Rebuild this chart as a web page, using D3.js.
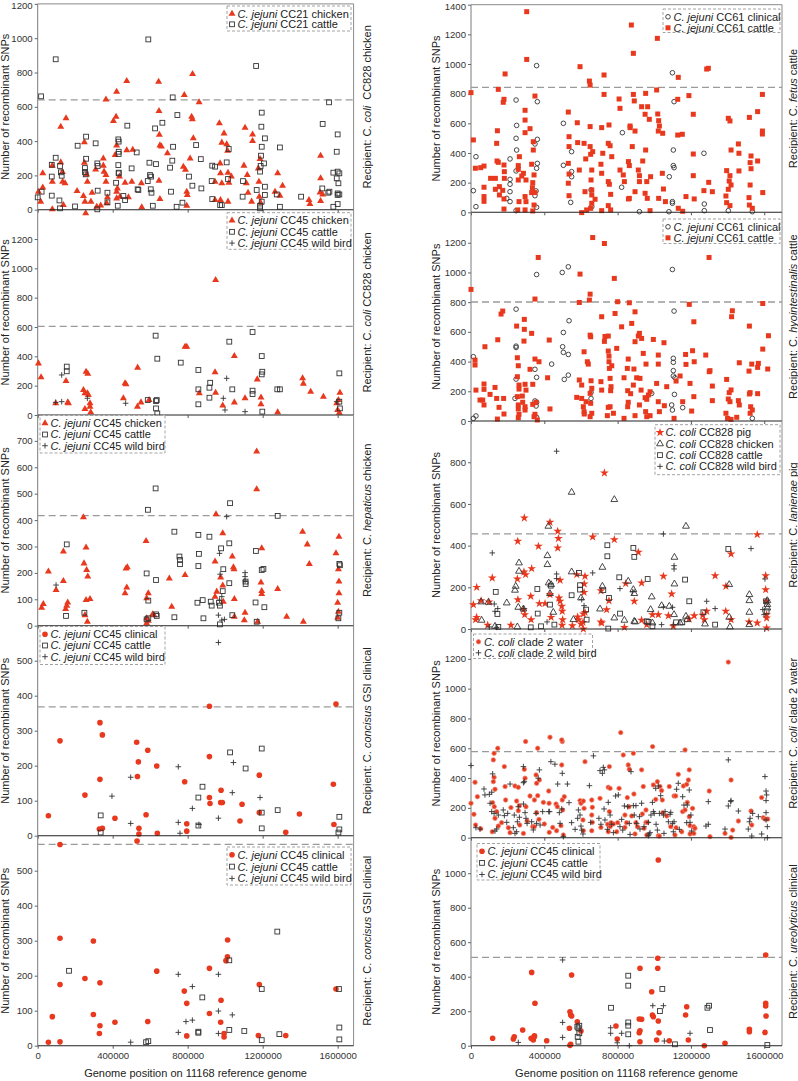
<!DOCTYPE html>
<html><head><meta charset="utf-8">
<script src="https://cdn.jsdelivr.net/npm/d3@7"></script>
<style>body{margin:0;background:#fff}svg{display:block}text{font-family:"Liberation Sans",Arial,sans-serif}</style>
</head><body><svg id="c" width="798" height="1081"></svg>
<script>
// ---------------- DATA (x = genome position in kb, y = number of recombinant SNPs) ----------------
const xTicks = [0, 400000, 800000, 1200000, 1600000];
const thresholds = {L1:640, L2:605, L3:417, L4:368, L5:575, R1:843, R2:801, R3:456, R4:578, R5:512};
const yTicksL1 = [0,200,400,600,800,1000,1200];
const yTicksL2 = [0,200,400,600,800,1000,1200];
const yTicksL3 = [0,100,200,300,400,500,600,700];
const yTicksL4 = [0,100,200,300,400,500];
const yTicksL5 = [0,100,200,300,400,500];
const yTicksR1 = [0,200,400,600,800,1000,1200,1400];
const yTicksR2 = [0,200,400,600,800,1000,1200];
const yTicksR3 = [0,200,400,600,800];
const yTicksR4 = [0,200,400,600,800,1000,1200];
const yTicksR5 = [0,200,400,600,800,1000];

const L1_chicken = [[4,105],[16,47],[27,212],[27,130],[78,2],[78,163],[78,257],[123,484],[123,276],[132,220],[133,163],[146,154],[151,533],[137,27],[210,109],[244,80],[249,393],[249,274],[256,-21],[252,47],[261,206],[265,163],[284,47],[290,99],[309,235],[315,17],[336,25],[350,257],[350,299],[354,222],[364,643],[364,202],[364,163],[368,37],[372,72],[404,517],[413,319],[418,542],[421,688],[421,375],[425,124],[421,105],[421,66],[436,193],[439,76],[475,750],[475,346],[466,157],[484,72],[507,350],[502,163],[553,154],[555,14],[645,746],[647,575],[649,437],[652,375],[660,368],[647,169],[652,62],[692,329],[782,669],[777,251],[788,233],[795,105],[798,86],[795,23],[813,299],[821,542],[825,527],[826,791],[830,416],[861,626],[946,163],[969,504],[973,270],[982,391],[994,445],[1008,381],[1013,344],[975,212],[982,154],[946,56],[975,56],[1015,216],[1020,157],[1033,193],[1015,47],[1106,478],[1100,257],[1118,202],[1113,154],[1122,99],[1146,439],[1146,400],[1141,47],[1177,241],[1180,163],[1182,76],[1186,295],[1189,41],[1280,212],[1266,105],[1292,82],[1306,140],[1447,56],[1452,33],[1509,315],[1509,183],[1506,101],[1509,51],[1520,89]];
const L1_cattle = [[18,661],[21,105],[0,72],[96,877],[75,262],[75,193],[75,82],[96,303],[119,255],[124,218],[128,198],[116,54],[119,8],[199,19],[213,373],[258,426],[258,297],[252,243],[252,220],[256,206],[309,387],[318,270],[320,255],[320,111],[318,2],[372,99],[372,43],[418,157],[430,410],[432,397],[432,338],[432,325],[430,260],[432,216],[432,212],[427,23],[457,80],[466,56],[478,490],[501,241],[528,334],[533,119],[537,115],[590,993],[596,274],[599,202],[605,193],[587,167],[603,119],[607,99],[614,23],[626,474],[631,266],[665,507],[706,245],[711,105],[718,286],[720,655],[722,367],[745,552],[741,17],[772,41],[807,193],[825,140],[845,377],[870,295],[873,124],[928,167],[931,257],[946,251],[931,62],[973,27],[982,27],[1008,276],[1015,179],[1019,354],[1095,167],[1093,76],[1165,838],[1168,115],[1189,255],[1186,222],[1191,315],[1195,367],[1193,484],[1195,566],[1195,47],[1186,23],[1186,8],[1212,416],[1207,270],[1212,134],[1212,86],[1292,363],[1292,17],[1275,89],[1405,76],[1520,500],[1518,124],[1554,626],[1550,99],[1556,105],[1577,216],[1577,17],[1595,338],[1600,439],[1600,222],[1609,212],[1604,154],[1600,95],[1600,86],[1609,89],[1600,33],[1595,183]];

const L2_chicken = [[4,352],[18,257],[96,80],[151,232],[160,86],[164,80],[244,170],[258,295],[267,282],[252,148],[265,148],[270,136],[279,80],[252,41],[279,57],[283,18],[466,216],[471,209],[457,114],[533,323],[532,57],[551,86],[594,102],[786,466],[795,466],[862,148],[946,291],[949,152],[949,920],[987,64],[1049,402],[1049,86],[1106,114],[1171,243],[1191,120],[1191,73],[1280,18],[1413,250],[1417,214],[1456,159],[1524,125],[1604,102],[1612,152],[1600,34],[1609,16],[1595,80]];
const L2_cattle = [[155,330],[155,298],[587,102],[629,541],[638,384],[631,95],[631,45],[638,11],[635,102],[763,357],[857,307],[857,175],[857,73],[916,186],[916,118],[920,220],[1022,500],[1038,175],[1146,566],[1146,166],[1146,143],[1195,402],[1195,277],[1198,295],[1198,23],[1278,175],[1292,175],[1609,284],[1609,91],[1612,45]];
const L2_wildbird = [[96,86],[128,91],[128,273],[265,114],[469,80],[1008,250],[990,114],[999,34],[1106,23],[1595,91]];

const L3_chicken = [[21,68],[30,82],[57,205],[98,135],[137,169],[137,281],[149,63],[155,76],[160,88],[244,411],[258,296],[247,236],[261,211],[267,186],[258,97],[279,101],[252,40],[265,15],[471,217],[478,221],[475,145],[466,123],[578,321],[590,123],[581,104],[581,28],[581,9],[590,19],[613,43],[620,40],[702,179],[715,72],[786,192],[951,422],[946,243],[955,129],[946,110],[976,183],[987,350],[987,152],[990,91],[1038,262],[1044,221],[1047,214],[1049,101],[1049,34],[1106,49],[1102,21],[1168,660],[1168,517],[1173,15],[1195,293],[1191,164],[1195,131],[1195,120],[1280,139],[1328,34],[1413,356],[1438,308],[1449,234],[1417,15],[1591,274],[1607,337],[1604,214],[1607,167],[1607,123],[1600,87],[1604,53],[1600,30]];
const L3_cattle = [[155,308],[151,37],[249,49],[588,439],[629,520],[581,198],[631,173],[590,95],[581,24],[590,28],[631,43],[635,37],[729,356],[756,262],[759,249],[759,233],[729,32],[857,344],[860,272],[857,226],[852,87],[880,97],[884,28],[916,337],[923,91],[928,76],[967,87],[972,76],[978,293],[1026,464],[1022,312],[990,214],[987,131],[1022,161],[972,5],[1038,40],[1109,167],[1109,158],[1164,283],[1195,211],[1204,215],[1162,88],[1209,70],[1168,15],[1280,416],[1609,234],[1612,229],[1609,49],[1604,28]];
const L3_wildbird = [[98,154],[1008,413],[970,274],[973,195],[970,97],[982,110],[964,40],[982,21],[996,24],[1106,201],[1106,186],[1106,170]];

const L4_clinical = [[57,57],[119,271],[252,116],[332,323],[345,288],[332,161],[329,19],[345,21],[412,50],[528,267],[537,211],[532,169],[540,21],[540,5],[587,244],[578,60],[635,199],[638,7],[784,154],[795,34],[795,13],[916,370],[916,226],[916,109],[919,92],[978,130],[976,95],[985,95],[1090,90],[1079,42],[1182,173],[1182,66],[1323,10],[1396,62],[1577,147],[1580,32],[1591,376]];
const L4_cattle = [[336,58],[336,9],[857,109],[857,29],[879,140],[1026,238],[1109,192],[1195,249],[1195,66],[1195,21],[1280,73],[1609,54],[1609,18],[1604,9]];
const L4_wildbird = [[396,113],[496,167],[496,35],[750,197],[750,38],[759,7],[825,78],[860,32],[964,552],[964,50],[1044,209],[1038,123],[1186,109]];

const L5_clinical = [[119,575],[530,585],[57,10],[78,83],[119,307],[119,175],[119,11],[252,192],[297,299],[297,89],[332,180],[332,57],[329,35],[412,67],[587,69],[635,213],[782,156],[795,121],[795,28],[916,221],[916,92],[978,130],[976,67],[994,35],[994,25],[1013,302],[1012,254],[1004,243],[1182,175],[1177,29],[1323,29],[1591,162]];
const L5_cattle = [[167,214],[590,13],[578,10],[857,40],[857,37],[878,138],[1022,45],[1022,244],[1102,42],[1195,162],[1195,16],[1278,326],[1289,33],[1607,162],[1609,52],[1609,18]];
const L5_wildbird = [[496,10],[750,204],[825,169],[825,73],[791,69],[750,38],[964,204],[964,99],[964,35],[1038,88]];

const R1_clinical = [[13,146],[27,375],[27,38],[246,757],[249,586],[246,499],[249,420],[246,279],[213,360],[213,222],[213,189],[213,139],[213,72],[195,94],[246,11],[358,989],[362,746],[362,492],[362,330],[358,297],[349,461],[355,144],[349,112],[358,34],[504,600],[504,317],[549,409],[549,274],[549,240],[544,67],[655,151],[659,38],[826,537],[822,169],[919,4],[1082,240],[1099,941],[1108,746],[1104,420],[1104,315],[1108,301],[1099,72],[1099,61],[1080,4],[1271,398],[1273,56],[1273,11],[1404,11],[1535,4]];
const R1_cattle = [[0,807],[13,488],[24,297],[53,301],[71,312],[71,169],[71,106],[71,74],[107,229],[133,229],[133,155],[144,550],[149,829],[140,465],[142,346],[149,337],[155,173],[155,117],[173,148],[180,762],[176,742],[186,933],[180,319],[182,274],[182,229],[180,90],[180,22],[258,315],[258,290],[258,218],[262,72],[255,16],[264,375],[295,688],[295,622],[304,1353],[304,1031],[295,537],[286,263],[277,245],[300,218],[295,106],[300,72],[295,16],[322,564],[331,324],[340,476],[340,420],[349,784],[344,252],[337,200],[331,133],[337,9],[344,49],[349,133],[335,166],[531,676],[535,510],[535,443],[531,330],[535,258],[531,196],[535,112],[580,604],[595,982],[582,470],[591,285],[604,-2],[617,465],[622,139],[626,360],[631,16],[646,885],[650,858],[650,578],[650,443],[653,391],[659,285],[655,218],[659,151],[659,117],[659,61],[653,27],[664,409],[677,88],[713,571],[719,398],[726,795],[726,926],[713,263],[709,324],[749,465],[753,589],[759,449],[768,375],[749,207],[755,189],[762,121],[713,11],[749,45],[762,16],[808,764],[813,701],[813,285],[831,252],[837,207],[859,342],[864,315],[868,582],[868,571],[859,90],[864,94],[875,1263],[886,1072],[886,795],[891,751],[880,443],[895,548],[895,139],[913,285],[919,247],[919,207],[931,712],[937,346],[953,802],[953,420],[964,712],[950,661],[959,207],[950,128],[962,94],[973,627],[980,240],[977,11],[1013,825],[1017,1173],[1019,663],[1024,618],[1028,582],[1022,548],[1046,533],[1024,94],[1044,263],[1050,157],[1061,72],[1131,910],[1128,762],[1128,521],[1153,526],[1131,27],[1155,7],[1173,106],[1189,787],[1213,661],[1213,393],[1213,247],[1218,90],[1286,966],[1295,971],[1271,146],[1297,202],[1317,139],[1404,634],[1413,616],[1395,281],[1413,247],[1409,211],[1419,420],[1419,184],[1391,110],[1404,155],[1395,65],[1413,45],[1459,461],[1462,398],[1462,279],[1519,640],[1523,335],[1523,184],[1517,99],[1519,49],[1528,380],[1528,294],[1535,27],[1564,679],[1564,346],[1590,795],[1590,548],[1590,528],[1592,133]];

const R2_clinical = [[13,433],[13,18],[27,34],[246,753],[246,504],[246,495],[246,282],[240,152],[349,348],[358,294],[358,986],[349,135],[358,126],[355,101],[358,25],[440,383],[498,1000],[531,1038],[504,596],[535,675],[500,500],[504,462],[531,448],[509,280],[531,309],[655,193],[655,152],[986,186],[1099,1020],[1108,740],[1104,422],[1104,395],[1104,339],[1104,303],[1113,291],[1110,179],[1095,108],[1099,74],[1155,90],[1535,18]];
const R2_cattle = [[0,886],[22,410],[22,377],[27,208],[71,249],[71,213],[76,500],[49,141],[64,141],[71,108],[104,179],[131,226],[140,152],[146,547],[153,92],[144,13],[164,720],[173,740],[178,152],[180,47],[249,639],[253,426],[258,372],[253,298],[262,242],[262,215],[258,108],[258,81],[258,22],[262,45],[253,164],[280,168],[282,126],[291,684],[291,617],[289,538],[295,247],[300,208],[295,96],[295,74],[322,348],[331,590],[337,247],[337,112],[349,821],[349,417],[349,45],[355,126],[367,1101],[371,399],[344,29],[362,7],[418,291],[427,545],[431,81],[577,159],[591,276],[595,989],[591,798],[604,242],[617,466],[617,63],[604,152],[613,96],[618,47],[628,130],[635,399],[640,383],[650,854],[646,814],[650,578],[653,567],[655,271],[659,220],[650,186],[653,119],[659,52],[650,29],[664,1235],[709,265],[713,702],[713,208],[728,1195],[728,536],[731,569],[749,572],[749,471],[753,437],[753,399],[755,354],[759,287],[764,231],[768,372],[762,204],[744,36],[749,92],[759,96],[777,52],[782,960],[786,724],[795,489],[800,803],[822,634],[835,291],[835,18],[853,354],[858,417],[855,204],[858,126],[855,96],[864,796],[871,184],[877,657],[886,242],[889,350],[895,735],[895,36],[895,534],[904,291],[913,572],[919,590],[919,108],[922,287],[928,208],[931,556],[940,455],[950,157],[953,63],[959,146],[955,383],[968,175],[959,29],[977,197],[977,36],[995,549],[1013,253],[1022,383],[1022,130],[1028,63],[1022,444],[1053,527],[1055,103],[1068,231],[1108,18],[1119,269],[1141,303],[1155,130],[1171,448],[1173,381],[1191,785],[1195,253],[1204,67],[1209,473],[1216,668],[1216,164],[1218,399],[1281,444],[1299,1101],[1300,332],[1304,339],[1317,235],[1317,137],[1395,280],[1391,52],[1404,148],[1409,191],[1413,130],[1419,209],[1426,742],[1422,702],[1400,18],[1419,11],[1450,25],[1464,392],[1459,137],[1464,108],[1519,639],[1517,336],[1523,191],[1519,182],[1526,96],[1523,52],[1535,74],[1532,383],[1564,361],[1568,388],[1564,184],[1592,791],[1592,484],[1623,574],[1619,350]];

const R3_pig = [[13,117],[25,45],[31,56],[31,200],[55,136],[91,18],[98,130],[116,245],[218,18],[253,240],[255,421],[256,141],[286,93],[291,533],[293,69],[289,274],[298,261],[326,157],[331,290],[328,45],[368,397],[373,122],[404,122],[437,56],[431,512],[431,165],[473,469],[477,434],[473,389],[480,149],[486,234],[486,133],[495,109],[498,85],[500,45],[497,18],[553,16],[577,261],[582,58],[586,45],[600,24],[613,72],[618,216],[622,80],[613,0],[611,32],[617,176],[622,253],[664,442],[709,184],[709,34],[713,29],[728,749],[740,93],[753,136],[782,429],[837,8],[844,218],[891,133],[913,368],[931,221],[931,42],[959,21],[990,69],[1022,69],[1050,253],[1077,64],[1095,168],[1104,13],[1190,48],[1218,64],[1264,66],[1273,45],[1286,85],[1332,256],[1390,85],[1391,205],[1419,360],[1419,45],[1517,34],[1562,29],[1562,453],[1608,256],[1608,189],[1613,133],[1613,69],[1613,53],[1613,5]];
const R3_chicken = [[55,130],[58,42],[95,128],[131,13],[195,125],[244,205],[240,186],[262,317],[262,277],[258,104],[253,10],[286,96],[417,352],[417,309],[424,221],[422,493],[431,170],[437,213],[449,80],[549,274],[549,656],[559,45],[600,149],[704,96],[717,205],[717,296],[782,621],[782,53],[837,42],[858,229],[886,189],[891,170],[891,37],[895,34],[980,93],[986,154],[990,29],[1040,112],[1082,109],[1108,69],[1110,216],[1110,344],[1141,29],[1173,61],[1173,493],[1180,45],[1277,24],[1409,213],[1409,56],[1413,10],[1519,165],[1519,136],[1519,80],[1519,21],[1617,136],[1617,117],[1617,101]];
const R3_cattle = [[135,178],[144,72],[149,10],[326,8],[364,74],[362,192],[382,13],[431,117],[435,208],[455,21],[549,162],[589,269],[595,210],[595,189],[628,93],[631,45],[722,186],[744,402],[744,349],[749,2],[753,149],[809,248],[813,74],[886,389],[891,346],[964,240],[959,37],[968,34],[990,13],[1119,32],[1153,32],[1168,237],[1191,133],[1268,80],[1332,21],[1404,384],[1610,133],[1613,85]];
const R3_wildbird = [[116,365],[127,120],[131,85],[146,98],[140,8],[100,10],[289,98],[415,34],[467,853],[467,264],[467,242],[604,141],[617,112],[664,269],[813,194],[882,178],[1050,456],[1108,304],[1108,288],[1100,104],[1050,106],[1040,21],[1104,21],[1286,133],[1332,98],[1528,386],[1592,93],[1604,240],[1599,69]];

const R4_water = [[0,231],[16,157],[22,372],[25,85],[35,275],[53,60],[118,235],[122,522],[126,566],[131,325],[116,40],[146,600],[126,405],[122,376],[127,208],[131,130],[140,175],[149,78],[182,477],[186,343],[189,253],[167,101],[204,67],[213,34],[218,202],[240,347],[249,246],[258,338],[258,181],[264,215],[266,85],[286,29],[291,459],[298,645],[295,399],[300,208],[306,112],[322,280],[337,74],[346,74],[346,253],[355,421],[358,365],[364,600],[364,282],[358,168],[373,387],[371,123],[395,237],[400,92],[424,313],[431,674],[426,231],[427,36],[446,69],[464,226],[467,47],[471,208],[495,488],[498,645],[495,656],[498,253],[500,186],[509,275],[491,81],[504,18],[595,249],[600,231],[613,246],[617,197],[611,119],[613,47],[622,510],[659,253],[662,204],[659,47],[662,103],[659,152],[704,264],[709,69],[746,90],[749,338],[755,477],[759,331],[749,40],[759,74],[755,175],[764,101],[777,92],[795,40],[800,101],[808,331],[817,705],[831,555],[840,152],[840,69],[849,101],[853,269],[858,488],[862,208],[864,459],[877,146],[886,566],[889,293],[895,25],[900,101],[908,74],[931,455],[935,159],[940,343],[944,63],[955,186],[955,103],[959,18],[962,103],[991,611],[995,354],[1008,257],[1017,376],[1022,13],[1028,11],[1031,343],[1040,316],[1044,253],[1046,168],[1068,146],[1082,343],[1090,74],[1108,280],[1117,280],[1131,425],[1119,67],[1113,18],[1150,40],[1155,175],[1159,347],[1168,589],[1168,186],[1177,358],[1180,237],[1186,387],[1191,455],[1191,141],[1195,81],[1195,25],[1209,197],[1216,74],[1222,63],[1216,29],[1300,313],[1304,7],[1404,1178],[1419,387],[1419,2],[1428,51],[1386,29],[1459,112],[1528,179],[1532,85],[1586,269],[1595,134],[1604,125],[1619,125]];
const R4_wildbird = [[0,484],[27,67],[49,58],[71,327],[76,287],[100,291],[104,231],[113,305],[118,428],[113,175],[126,163],[131,45],[140,58],[149,152],[176,186],[182,148],[195,103],[200,163],[213,360],[231,67],[236,152],[240,29],[253,107],[249,40],[258,208],[264,137],[286,477],[286,369],[286,226],[291,376],[295,168],[300,130],[306,96],[331,107],[340,52],[355,163],[358,96],[367,399],[373,455],[377,85],[391,175],[424,175],[429,175],[436,510],[458,493],[473,360],[482,168],[486,96],[495,193],[498,432],[504,7],[526,360],[535,235],[549,101],[568,56],[582,130],[586,186],[595,152],[600,78],[604,51],[611,25],[646,349],[653,103],[668,549],[698,130],[704,450],[709,90],[717,432],[722,472],[728,455],[726,193],[731,119],[744,56],[749,237],[759,152],[768,90],[777,34],[789,280],[804,287],[813,74],[822,123],[828,51],[837,213],[855,208],[864,96],[868,22],[873,443],[886,215],[891,152],[900,215],[904,96],[919,141],[922,58],[931,231],[944,74],[968,13],[968,103],[973,25],[977,34],[982,152],[990,237],[995,175],[1000,163],[1008,331],[1010,90],[1017,51],[1022,347],[1028,163],[1035,282],[1050,152],[1053,29],[1059,175],[1077,107],[1086,157],[1090,170],[1100,96],[1104,40],[1108,107],[1122,325],[1131,365],[1137,56],[1155,275],[1162,219],[1177,101],[1180,219],[1191,320],[1195,103],[1200,152],[1204,45],[1282,78],[1295,90],[1295,242],[1386,58],[1404,522],[1404,213],[1419,249],[1417,242],[1459,179],[1513,58],[1519,107],[1523,130],[1532,11],[1537,163],[1568,141],[1586,25],[1604,410],[1610,313],[1610,249],[1613,287],[1610,168],[1610,119],[1617,74],[1617,0]];

const R5_clinical = [[118,43],[231,39],[236,52],[282,91],[331,425],[328,43],[340,33],[346,58],[349,246],[346,52],[413,29],[540,197],[537,101],[544,178],[549,172],[549,410],[544,8],[540,2],[580,139],[600,85],[791,114],[798,39],[922,449],[918,155],[931,153],[918,75],[922,87],[922,23],[986,313],[990,178],[995,168],[1013,33],[1019,507],[1019,449],[1022,143],[1026,75],[1022,1077],[1082,29],[1177,226],[1171,178],[1186,33],[1273,0],[1386,14],[1519,95],[1519,81],[1608,526],[1608,246],[1608,230],[1610,172],[1604,77]];
const R5_cattle = [[580,110],[586,101],[591,72],[591,116],[586,23],[582,52],[764,220],[858,406],[858,348],[858,135],[858,116],[858,66],[1031,201],[1044,329],[1113,8],[1290,220],[1299,232],[1304,91],[1617,4]];
const R5_wildbird = [[258,19],[500,497],[500,135],[500,48],[762,104],[762,72],[822,72],[798,17],[864,0],[992,232],[1050,232],[1055,27],[1195,72]];

// ---------------- LAYOUT ----------------
const RED = '#e8381d', DK = '#333';
const cols = [{x0:37.7, x1:353.6, xmax:1685, ytitle:8.5, rtitle:370.5, xcenter:195.6},
              {x0:471, x1:782, xmax:1697, ytitle:440, rtitle:796.5, xcenter:626.5}];
const panels = [
 {id:'L1',col:0,top:3.9,bottom:209.7,ymax:1200,ticks:yTicksL1,rec:['coli','  CC828 chicken'],
  series:[[L1_chicken,'triRed','CC21 chicken'],[L1_cattle,'sqOpen','CC21 cattle']],sp:'C. jejuni',lg:[227,6,124,25,10.5]},
 {id:'L2',col:0,top:209.7,bottom:415,ymax:1400,ticks:yTicksL2,rec:['coli',' CC828 chicken'],
  series:[[L2_chicken,'triRed','CC45 chicken'],[L2_cattle,'sqOpen','CC45 cattle'],[L2_wildbird,'plus','CC45 wild bird']],sp:'C. jejuni',lg:[227,212.7,124,36.6,11.3]},
 {id:'L3',col:0,top:415,bottom:625.7,ymax:798,ticks:yTicksL3,rec:['hepaticus',' chicken'],
  series:[[L3_chicken,'triRed','CC45 chicken'],[L3_cattle,'sqOpen','CC45 cattle'],[L3_wildbird,'plus','CC45 wild bird']],sp:'C. jejuni',lg:[40,415.5,125,37.5,11.2]},
 {id:'L4',col:0,top:625.7,bottom:835.7,ymax:600,ticks:yTicksL4,rec:['concisus',' GSI clinical'],
  series:[[L4_clinical,'dotRed','CC45 clinical'],[L4_cattle,'sqOpen','CC45 cattle'],[L4_wildbird,'plus','CC45 wild bird']],sp:'C. jejuni',lg:[40,626.5,125,38,11.2]},
 {id:'L5',col:0,top:835.7,bottom:1045.7,ymax:600,ticks:yTicksL5,rec:['concisus',' GSII clinical'],
  series:[[L5_clinical,'dotRed','CC45 clinical'],[L5_cattle,'sqOpen','CC45 cattle'],[L5_wildbird,'plus','CC45 wild bird']],sp:'C. jejuni',lg:[227,847,124,38,11.8]},
 {id:'R1',col:1,top:4.7,bottom:212.3,ymax:1400,ticks:yTicksR1,rec:['fetus',' cattle'],
  series:[[R1_clinical,'circOpen','CC61 clinical'],[R1_cattle,'sqRed','CC61 cattle']],sp:'C. jejuni',lg:[663,9,117,23.5,11]},
 {id:'R2',col:1,top:212.3,bottom:421,ymax:1405,ticks:yTicksR2,rec:['hyointestinalis',' cattle'],
  series:[[R2_clinical,'circOpen','CC61 clinical'],[R2_cattle,'sqRed','CC61 cattle']],sp:'C. jejuni',lg:[663,219,117,24.5,11]},
 {id:'R3',col:1,top:421,bottom:629,ymax:998,ticks:yTicksR3,rec:['lanienae',' pig'],
  series:[[R3_pig,'star','CC828 pig'],[R3_chicken,'triOpen','CC828 chicken'],[R3_cattle,'sqOpen','CC828 cattle'],[R3_wildbird,'plus','CC828 wild bird']],sp:'C. coli',lg:[655,424.7,125,50,11.3]},
 {id:'R4',col:1,top:629,bottom:837.7,ymax:1400,ticks:yTicksR4,rec:['coli',' clade 2 water'],
  series:[[R4_water,'water','clade 2 water'],[R4_wildbird,'plus','clade 2 wild bird']],sp:'C. coli',lg:[473.5,634,119,24.5,11]},
 {id:'R5',col:1,top:837.7,bottom:1045.7,ymax:1206,ticks:yTicksR5,rec:['ureolyticus',' clinical'],
  series:[[R5_clinical,'dotRed','CC45 clinical'],[R5_cattle,'sqOpen','CC45 cattle'],[R5_wildbird,'plus','CC45 wild bird']],sp:'C. jejuni',lg:[477,843.5,123,36.5,11.6]}
];

const svg = d3.select('#c');

function mark(g, type, x, y) {
  switch (type) {
    case 'triRed': return g.append('path').attr('d', d3.symbol(d3.symbolTriangle, 21)()).attr('transform',`translate(${x},${y})`).attr('fill', RED);
    case 'triOpen': return g.append('path').attr('d', d3.symbol(d3.symbolTriangle, 20)()).attr('transform',`translate(${x},${y})`).attr('fill','none').attr('stroke',DK).attr('stroke-width',0.9);
    case 'sqOpen': return g.append('rect').attr('x',x-2.4).attr('y',y-2.4).attr('width',4.8).attr('height',4.8).attr('fill','none').attr('stroke',DK).attr('stroke-width',0.9);
    case 'sqRed': return g.append('rect').attr('x',x-2.5).attr('y',y-2.5).attr('width',5).attr('height',5).attr('fill',RED);
    case 'dotRed': return g.append('circle').attr('cx',x).attr('cy',y).attr('r',2.8).attr('fill',RED);
    case 'circOpen': return g.append('circle').attr('cx',x).attr('cy',y).attr('r',2.3).attr('fill','none').attr('stroke',DK).attr('stroke-width',0.9);
    case 'star': return g.append('path').attr('d', d3.symbol(d3.symbolStar, 24)()).attr('transform',`translate(${x},${y})`).attr('fill', RED);
    case 'water': return g.append('circle').attr('cx',x).attr('cy',y).attr('r',2.2).attr('fill',RED).attr('stroke','#f0826e').attr('stroke-width',0.8);
    case 'plus': return g.append('path').attr('d',`M${x-2.8},${y}H${x+2.8}M${x},${y-2.8}V${y+2.8}`).attr('stroke',DK).attr('stroke-width',0.9).attr('fill','none');
  }
}

panels.forEach((p) => {
  const c = cols[p.col];
  const x = d3.scaleLinear().domain([0, c.xmax]).range([c.x0, c.x1]);
  const y = d3.scaleLinear().domain([0, p.ymax]).range([p.bottom, p.top]);
  const g = svg.append('g');
  const isBottom = (p.id === 'L5' || p.id === 'R5');
  const isTop = (p.id === 'L1' || p.id === 'R1');

  // frame lines
  g.append('line').attr('x1',c.x0).attr('x2',c.x0).attr('y1',p.top).attr('y2',p.bottom).attr('stroke','#7a7a7a').attr('stroke-width',1);
  g.append('line').attr('x1',c.x1).attr('x2',c.x1).attr('y1',p.top).attr('y2',p.bottom).attr('stroke','#8a8a8a').attr('stroke-width',1);
  if (isTop) g.append('line').attr('x1',c.x0).attr('x2',c.x1).attr('y1',p.top).attr('y2',p.top).attr('stroke','#8a8a8a').attr('stroke-width',1);

  // y axis
  const ya = g.append('g').attr('transform',`translate(${c.x0},0)`)
    .call(d3.axisLeft(y).tickValues(p.ticks).tickSize(3).tickPadding(2).tickFormat(d3.format('d')));
  ya.select('.domain').remove();
  ya.selectAll('line').attr('stroke','#666');
  ya.selectAll('text').attr('font-size','9.6px').attr('fill','#333').attr('font-family','"Liberation Sans",Arial,sans-serif');
  // keep a label that sits at the very top edge inside the picture
  ya.selectAll('.tick').filter(d => y(d) < 6).select('text').attr('y', 1.6);

  // threshold dashed line
  g.append('line').attr('x1',c.x0).attr('x2',c.x1).attr('y1',y(thresholds[p.id])).attr('y2',y(thresholds[p.id]))
    .attr('stroke','#9a9a9a').attr('stroke-width',1.3).attr('stroke-dasharray','7,4');

  // points
  p.series.forEach(s => { s[0].forEach(d => mark(g, s[1], x(d[0]), y(d[1]))); });

  // x axis (bottom line)
  const xa = g.append('g').attr('transform',`translate(0,${p.bottom})`)
    .call(d3.axisBottom(x).tickValues(xTicks.map(v => v/1000)).tickSize(3).tickPadding(3)
      .tickFormat(d => isBottom ? d3.format('d')(d*1000) : ''));
  xa.select('.domain').attr('stroke','#222').attr('stroke-width',1.1).attr('d',`M${c.x0},0H${c.x1}`);
  xa.selectAll('line').attr('stroke','#555');
  xa.selectAll('text').attr('font-size','9.6px').attr('fill','#333').attr('font-family','"Liberation Sans",Arial,sans-serif');

  // y title
  const cy = (p.top + p.bottom) / 2;
  svg.append('text').attr('transform',`translate(${c.ytitle},${cy}) rotate(-90)`).attr('text-anchor','middle')
    .attr('font-size','11px').attr('fill','#222').text('Number of recombinant SNPs');
  // recipient title
  const rt = svg.append('text').attr('transform',`translate(${c.rtitle},${cy}) rotate(-90)`).attr('text-anchor','middle')
    .attr('font-size','11px').attr('fill','#222').attr('xml:space','preserve');
  rt.append('tspan').text('Recipient: C. ');
  rt.append('tspan').attr('font-style','italic').text(p.rec[0]);
  rt.append('tspan').text(p.rec[1]);

  // legend
  const [lx, ly, lw, lh, ls] = p.lg;
  const lg = svg.append('g');
  lg.append('rect').attr('x',lx).attr('y',ly).attr('width',lw).attr('height',lh).attr('fill','#fff')
    .attr('stroke','#999').attr('stroke-width',0.9).attr('stroke-dasharray','3,2');
  p.series.forEach((s, k) => {
    const ey = ly + 7.8 + k * ls;
    mark(lg, s[1], lx + 5, ey);
    const t = lg.append('text').attr('x', lx + 10.5).attr('y', ey + 3.9).attr('font-size','11px').attr('fill','#222');
    t.append('tspan').attr('font-style','italic').text(p.sp);
    t.append('tspan').text(' ' + s[2]);
  });

  if (isBottom) {
    svg.append('text').attr('x', c.xcenter).attr('y', 1076.5).attr('text-anchor','middle')
      .attr('font-size','11px').attr('fill','#222').text('Genome position on 11168 reference genome');
  }
});
</script>
</body></html>
